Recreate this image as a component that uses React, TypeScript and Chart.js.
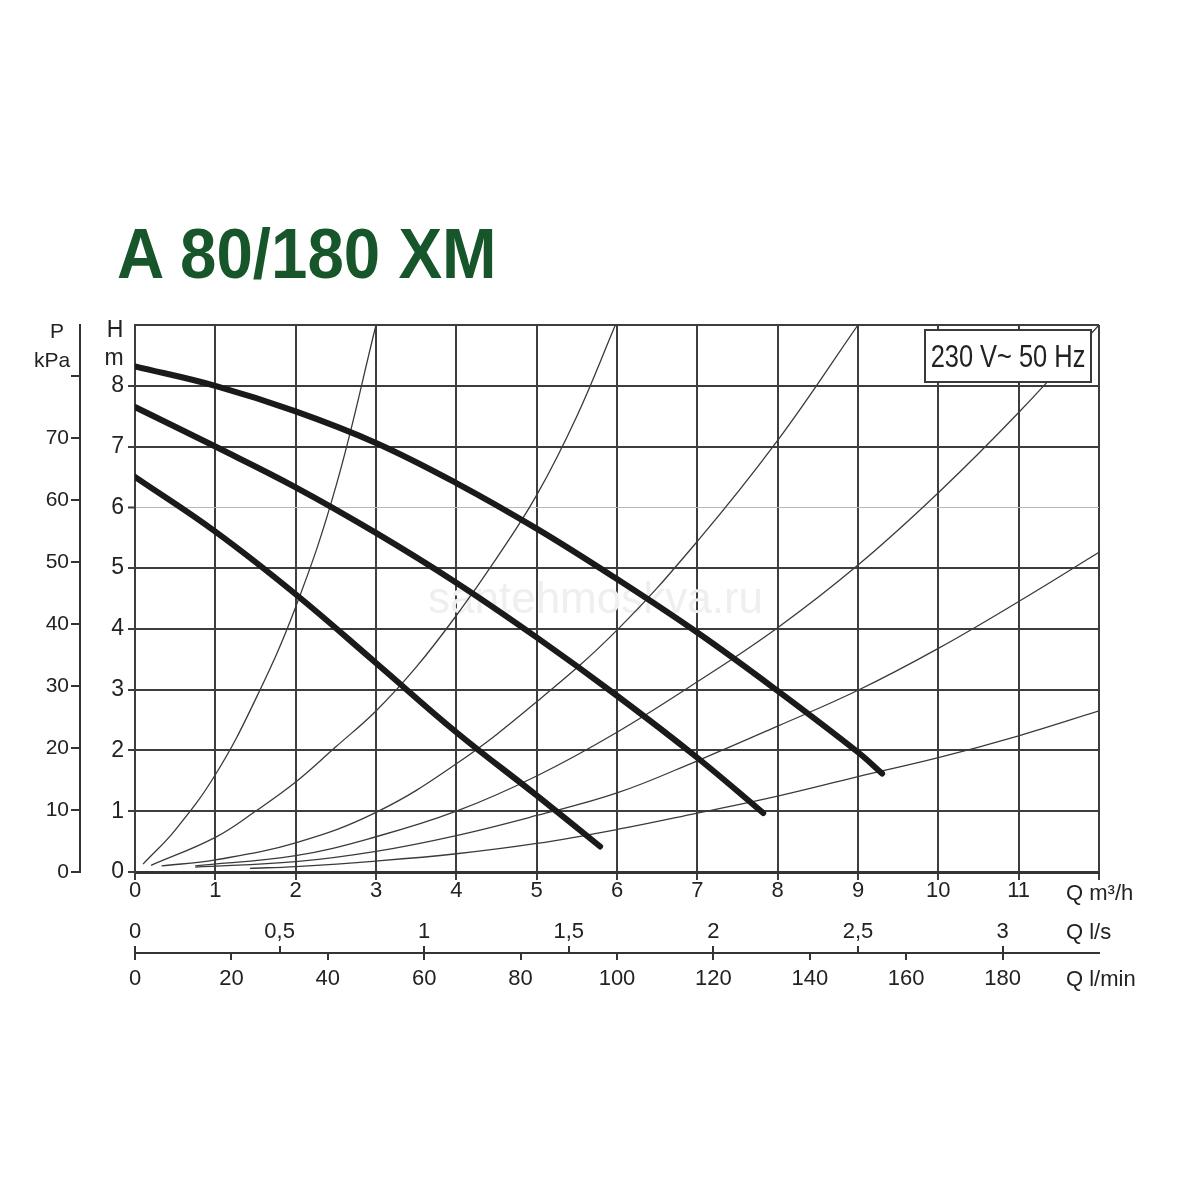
import React, { useEffect, useRef } from "react";
import { Chart, registerables } from "chart.js";

Chart.register(...registerables);

// ---- Data (Q in m³/h, H in m) ----
// Pump curves (thick)
const pump1Q = [0, 1, 2, 3, 4, 5, 5.79];
const pump1H = [6.5, 5.6, 4.57, 3.44, 2.3, 1.26, 0.42];
const pump2Q = [0, 1, 2, 3, 4, 5, 6, 7, 7.82];
const pump2H = [7.65, 7.0, 6.33, 5.58, 4.76, 3.86, 2.9, 1.88, 0.97];
const pump3Q = [0, 1, 2, 3, 4, 5, 6, 7, 8, 9, 9.3];
const pump3H = [8.32, 8.0, 7.58, 7.06, 6.4, 5.65, 4.82, 3.94, 2.98, 1.97, 1.62];

// System curves (thin)
const sysAQ = [0.1, 0.5, 1, 1.5, 2, 2.5, 3.0];
const sysAH = [0.13, 0.69, 1.6, 2.84, 4.36, 6.34, 9];
const sysBQ = [0.2, 1, 1.5, 2, 2.5, 3, 3.5, 4, 4.5, 5, 5.5, 5.98];
const sysBH = [0.11, 0.57, 1, 1.48, 2.06, 2.65, 3.37, 4.22, 5.16, 6.2, 7.5, 9];
const sysCQ = [0.33, 1, 2, 3, 4, 5, 6, 7, 8, 9];
const sysCH = [0.1, 0.2, 0.48, 0.98, 1.78, 2.8, 3.98, 5.44, 7.1, 9];
const sysDQ = [0.75, 2, 3, 4, 5, 6, 7, 8, 9, 10, 11, 12];
const sysDH = [0.1, 0.27, 0.58, 1.0, 1.58, 2.3, 3.13, 4.02, 5.05, 6.24, 7.56, 9];
const sysEQ = [0.75, 2, 3, 4, 5, 6, 7, 8, 9, 10, 11, 12];
const sysEH = [0.08, 0.17, 0.34, 0.6, 0.93, 1.3, 1.83, 2.4, 2.99, 3.68, 4.45, 5.26];
const sysFQ = [1.43, 2, 3, 4, 5, 6, 7, 8, 9, 10, 11, 12];
const sysFH = [0.06, 0.09, 0.18, 0.3, 0.47, 0.7, 0.97, 1.25, 1.57, 1.88, 2.24, 2.65];

// Axis ranges / ticks
const qMax = 12; // m³/h
const hMax = 9; // m
const kPaPerM = 9.81;
const qLsMax = qMax / 3.6;
const qLminMax = (qMax * 1000) / 60;

const TITLE = "A 80/180 XM";
const SUPPLY = "230 V~ 50 Hz";
const WATERMARK = "santehmoskva.ru";

const FONT = "'Liberation Sans', Arial, Helvetica, sans-serif";
const GRID = "#3d3d3d";
const TEXT = "#222";

function pts(q: number[], h: number[]) {
  return q.map((x, i) => ({ x, y: h[i] }));
}

export default function App() {
  const ref = useRef<HTMLCanvasElement>(null);

  useEffect(() => {
    const canvas = ref.current;
    if (!canvas) return;
    const ctx2d = canvas.getContext("2d");
    if (!ctx2d) return;

    const thick = (q: number[], h: number[]) => ({
      data: pts(q, h),
      borderColor: "#1a1a1a",
      borderWidth: 6,
      borderCapStyle: "round" as const,
      pointRadius: 0,
      fill: false,
      tension: 0.4,
    });
    const thin = (q: number[], h: number[]) => ({
      data: pts(q, h),
      borderColor: "#3a3a3a",
      borderWidth: 1.3,
      pointRadius: 0,
      fill: false,
      tension: 0.4,
    });

    const overlay = {
      id: "overlay",
      beforeDatasetsDraw(chart: any) {
        const c = chart.ctx;
        c.save();
        c.font = `44px ${FONT}`;
        c.fillStyle = "#efefef";
        c.textAlign = "left";
        c.textBaseline = "alphabetic";
        c.fillText(WATERMARK, 428, 613);
        c.restore();
      },
      afterDraw(chart: any) {
        const c = chart.ctx;
        const a = chart.chartArea;
        c.save();
        c.fillStyle = TEXT;
        c.textBaseline = "alphabetic";
        c.textAlign = "center";
        c.font = `21px ${FONT}`;
        c.fillText("P", 57, 338);
        c.fillText("kPa", 52, 367);
        c.font = `23px ${FONT}`;
        c.fillText("H", 115, 337);
        c.fillText("m", 114, 365);

        c.textAlign = "left";
        c.font = `22px ${FONT}`;
        const ux = a.right - 33;
        c.fillText("Q m³/h", ux, 900);
        c.fillText("Q l/s", ux, 939);
        c.fillText("Q l/min", ux, 986);

        // supply box
        const bw = 166;
        const bh = 52;
        const bx = a.right - 8 - bw;
        const by = a.top + 5;
        c.fillStyle = "#ffffff";
        c.fillRect(bx, by, bw, bh);
        c.strokeStyle = "#3a3a3a";
        c.lineWidth = 2;
        c.strokeRect(bx, by, bw, bh);
        c.fillStyle = TEXT;
        c.font = `31px ${FONT}`;
        c.textAlign = "center";
        c.translate(bx + bw / 2, by + 37);
        c.scale(0.82, 1);
        c.fillText(SUPPLY, 0, 0);
        c.restore();
      },
    };

    const tickFont = { family: FONT, size: 22 };

    const chart = new Chart(ctx2d, {
      type: "line",
      data: {
        datasets: [
          thick(pump3Q, pump3H),
          thick(pump2Q, pump2H),
          thick(pump1Q, pump1H),
          thin(sysAQ, sysAH),
          thin(sysBQ, sysBH),
          thin(sysCQ, sysCH),
          thin(sysDQ, sysDH),
          thin(sysEQ, sysEH),
          thin(sysFQ, sysFH),
        ] as any,
      },
      options: {
        responsive: false,
        animation: false,
        events: [],
        layout: { padding: { left: 0, top: 325, right: 101, bottom: 197 } },
        plugins: {
          legend: { display: false },
          tooltip: { enabled: false },
          title: { display: false },
        },
        scales: {
          x: {
            type: "linear",
            axis: "x",
            position: "bottom",
            weight: 0,
            min: 0,
            max: qMax,
            ticks: {
              stepSize: 1,
              autoSkip: false,
              maxRotation: 0,
              padding: -2,
              color: TEXT,
              font: tickFont,
              callback: (v: any) => (v === qMax ? "" : String(v)),
            },
            grid: {
              color: GRID,
              lineWidth: 2,
              tickLength: 8,
              tickColor: GRID,
              tickWidth: 2,
            },
            border: { display: true, color: "#333", width: 3 },
            afterFit: (s: any) => {
              s.height = 81;
            },
          },
          ls: {
            type: "linear",
            axis: "x",
            position: "bottom",
            weight: 1,
            min: 0,
            max: qLsMax,
            ticks: {
              stepSize: 0.5,
              includeBounds: false,
              autoSkip: false,
              maxRotation: 0,
              mirror: true,
              padding: 8,
              color: TEXT,
              font: tickFont,
              callback: (v: any) => String(v).replace(".", ","),
            },
            grid: {
              drawOnChartArea: false,
              tickLength: -7,
              color: "#333",
              lineWidth: 2,
            },
            border: { display: true, color: "#333", width: 2 },
            afterFit: (s: any) => {
              s.height = 0;
            },
          },
          lmin: {
            type: "linear",
            axis: "x",
            position: "bottom",
            weight: 2,
            min: 0,
            max: qLminMax,
            ticks: {
              stepSize: 20,
              includeBounds: false,
              autoSkip: false,
              maxRotation: 0,
              padding: 6,
              color: TEXT,
              font: tickFont,
              callback: (v: any) => (v >= qLminMax ? "" : String(v)),
            },
            grid: {
              drawOnChartArea: false,
              tickLength: 7,
              lineWidth: 2,
              color: (c: any) =>
                c.tick && c.tick.value >= qLminMax ? "rgba(0,0,0,0)" : "#333",
            },
            border: { display: false },
            afterFit: (s: any) => {
              s.height = 50;
            },
          },
          y: {
            type: "linear",
            axis: "y",
            position: "left",
            weight: 0,
            min: 0,
            max: hMax,
            ticks: {
              stepSize: 1,
              autoSkip: false,
              padding: 4,
              color: TEXT,
              font: { family: FONT, size: 23 },
              callback: (v: any) => (v === hMax ? "" : String(v)),
            },
            grid: {
              color: (c: any) =>
                c.tick && c.tick.value === 6 ? "#b8b8b8" : GRID,
              lineWidth: (c: any) => (c.tick && c.tick.value === 6 ? 1 : 2),
              tickLength: 7,
              tickColor: (c: any) =>
                c.tick && c.tick.value === hMax ? "rgba(0,0,0,0)" : GRID,
              tickWidth: 2,
            },
            border: { display: true, color: GRID, width: 2 },
            afterFit: (s: any) => {
              s.width = 55;
            },
          },
          p: {
            type: "linear",
            axis: "y",
            position: "left",
            weight: 1,
            min: 0,
            max: hMax * kPaPerM,
            ticks: {
              stepSize: 10,
              includeBounds: false,
              autoSkip: false,
              padding: 2,
              color: TEXT,
              font: { family: FONT, size: 21 },
              callback: (v: any) => (v === 80 ? "" : String(v)),
            },
            grid: {
              drawOnChartArea: false,
              tickLength: 9,
              color: "#333",
              lineWidth: 2,
            },
            border: { display: true, color: "#333", width: 2 },
            afterFit: (s: any) => {
              s.width = 80;
            },
          },
        } as any,
      },
      plugins: [overlay],
    });

    return () => {
      chart.destroy();
    };
  }, []);

  return (
    <div
      style={{
        position: "absolute",
        left: 0,
        top: 0,
        width: 1200,
        height: 1200,
        background: "#ffffff",
        overflow: "hidden",
      }}
    >
      <canvas
        ref={ref}
        width={1200}
        height={1200}
        style={{ position: "absolute", left: 0, top: 0, width: 1200, height: 1200 }}
      />
      <div
        style={{
          position: "absolute",
          left: 117,
          top: 219,
          fontFamily: FONT,
          fontWeight: 700,
          fontSize: 70,
          lineHeight: "70px",
          color: "#17562a",
          transform: "scaleX(0.935)",
          transformOrigin: "left top",
          whiteSpace: "nowrap",
        }}
      >
        {TITLE}
      </div>
    </div>
  );
}
